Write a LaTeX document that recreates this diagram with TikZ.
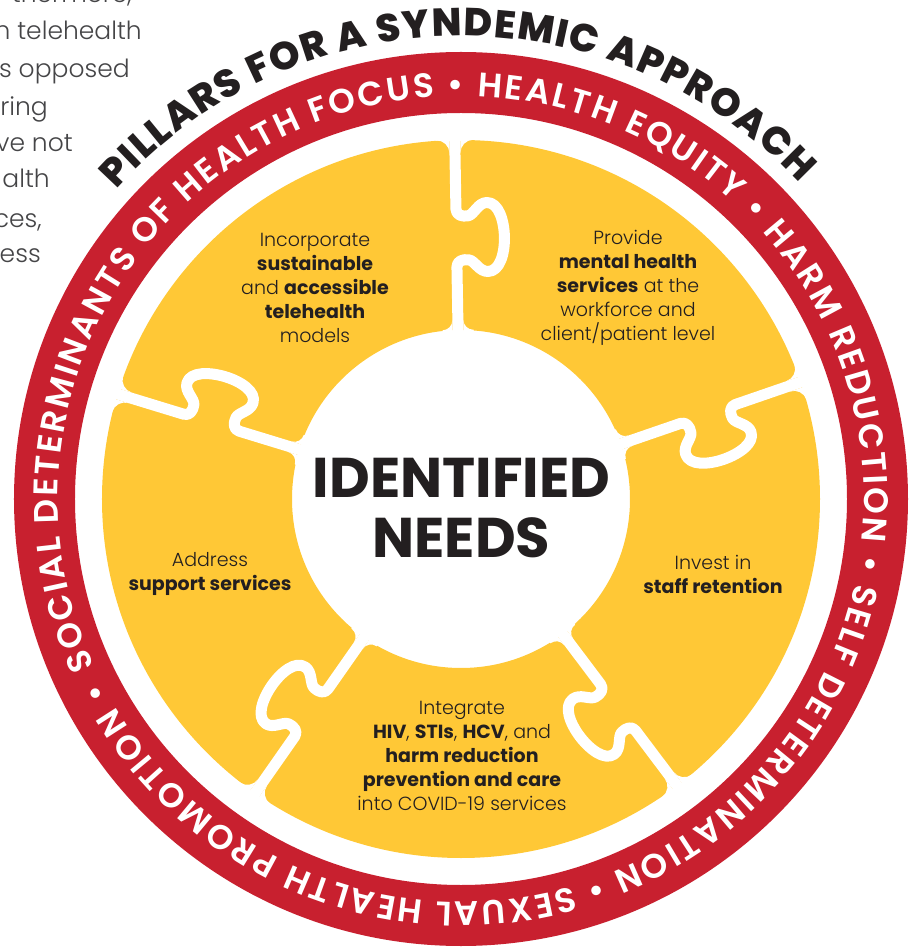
\documentclass[tikz,border=0pt]{standalone}
\usepackage{fontspec}
\setmainfont{Poppins}[UprightFont=* Light, BoldFont=* Bold]
\newfontfamily\ringface{Poppins SemiBold}
\newfontfamily\titleface{Poppins ExtraBold}
\usetikzlibrary{decorations.text}
\definecolor{ringred}{HTML}{C8202F}
\definecolor{piecegold}{HTML}{FFC836}
\definecolor{inkdark}{HTML}{231F20}
\definecolor{bodygray}{HTML}{454547}
\newcommand\ringfont{\ringface\fontsize{34}{34}\selectfont}
\newcommand\titlefont{\titleface\fontsize{39}{39}\selectfont}
\tikzset{
  needtext/.style={align=center, text=inkdark, inner sep=0pt,
    font=\fontsize{19}{24}\selectfont},
  hubtext/.style={align=center, text=inkdark, inner sep=0pt,
    font=\fontsize{56}{60}\selectfont\bfseries},
  bodyline/.style={anchor=base east, text=bodygray, inner sep=0pt,
    font=\fontsize{25}{28}\selectfont},
  seam/.style={draw=white, line width=11pt, line join=round},
  % one puzzle joint: seam with its knob plus the rounded piece corners
  pics/joint/.style={code={
    \draw[seam] (164,0) -- (232,0)
      .. controls (238,0) and (240,-6) .. (239,-12)
      .. controls (238,-18) and (227,-22) .. (227,-31)
      .. controls (227,-43) and (245,-48) .. (261,-48)
      .. controls (277,-48) and (296,-43) .. (296,-31)
      .. controls (296,-22) and (284,-18) .. (283,-12)
      .. controls (282,-6) and (284,0) .. (290,0) -- (364,0);
    \foreach \s in {1,-1}{
      \fill[white, yscale=\s] (346,5.5) -- (362,5.5) -- (362,18.5) -- (359,18.5)
        arc[start angle=0, end angle=-90, radius=13] -- cycle;
      \fill[white, yscale=\s] (179,5.5) -- (166,5.5) -- (166,15.5) -- (169,15.5)
        arc[start angle=180, end angle=270, radius=10] -- cycle;
    }
  }}
}

\begin{document}
\begin{tikzpicture}[x=1pt, y=1pt]

  \useasboundingbox (-461,-451) rectangle (457,499);
  \clip (-461,-451) rectangle (457,499);

  % ── running text of the page, cut at the left edge ───────────────────
  \node[bodyline] (line1) at (-329,496) {thermore,};
  \node[bodyline] (line2) at (-319,459) {n telehealth};
  \node[bodyline] (line3) at (-331,421) {s opposed};
  \node[bodyline] (line4) at (-413,383) {ring};
  \node[bodyline] (line5) at (-388,347) {ve not};
  \node[bodyline] (line6) at (-411,311) {alth};
  \node[bodyline] (line7) at (-419,271) {ces,};
  \node[bodyline] (line8) at (-420,236) {ess};

  % ── red ring with the pillars ─────────────────────────────────────────
  \fill[ringred, even odd rule] (0,0) circle[radius=447] (0,0) circle[radius=386];
  \path[decorate, decoration={text along path, text align={fit to path},
      text={|\ringfont\color{white}|SOCIAL DETERMINANTS OF HEALTH FOCUS • HEALTH EQUITY • HARM REDUCTION • SELF DETERMINATION • SEXUAL HEALTH PROMOTION •}}]
    (204.5:403) arc[start angle=204.5, end angle=-153.1, radius=403];

  % title over the ring
  \path[decorate, decoration={text along path, text align={fit to path},
      text={|\titlefont\color{inkdark}|PILLARS FOR A SYNDEMIC APPROACH}}]
    (138:463) arc[start angle=138, end angle=43, radius=463];

  % ── puzzle ring ───────────────────────────────────────────────────────
  \fill[piecegold, even odd rule] (0,0) circle[radius=359] (0,0) circle[radius=169];
  \foreach \a in {19,91,163,235,307}
    \pic[rotate=\a] {joint};

  % ── needs ─────────────────────────────────────────────────────────────
  \node[needtext] (tele) at (-146,211)
    {Incorporate\\\textbf{sustainable}\\and \textbf{accessible}\\\textbf{telehealth}\\models};
  \node[needtext] (mental) at (167,211)
    {Provide\\\textbf{mental health}\\\textbf{services} at the\\workforce and\\client/patient level};
  \node[needtext] (support) at (-251,-75) {Address\\\textbf{support services}};
  \node[needtext] (staff) at (252,-75) {Invest in\\\textbf{staff retention}};
  \node[needtext] (integrate) at (1,-257)
    {Integrate\\\textbf{HIV}, \textbf{STIs}, \textbf{HCV}, and\\\textbf{harm reduction}\\\textbf{prevention and care}\\into COVID-19 services};

  \node[hubtext] (hub) at (0.5,-9.5) {IDENTIFIED\\NEEDS};

\end{tikzpicture}
\end{document}
